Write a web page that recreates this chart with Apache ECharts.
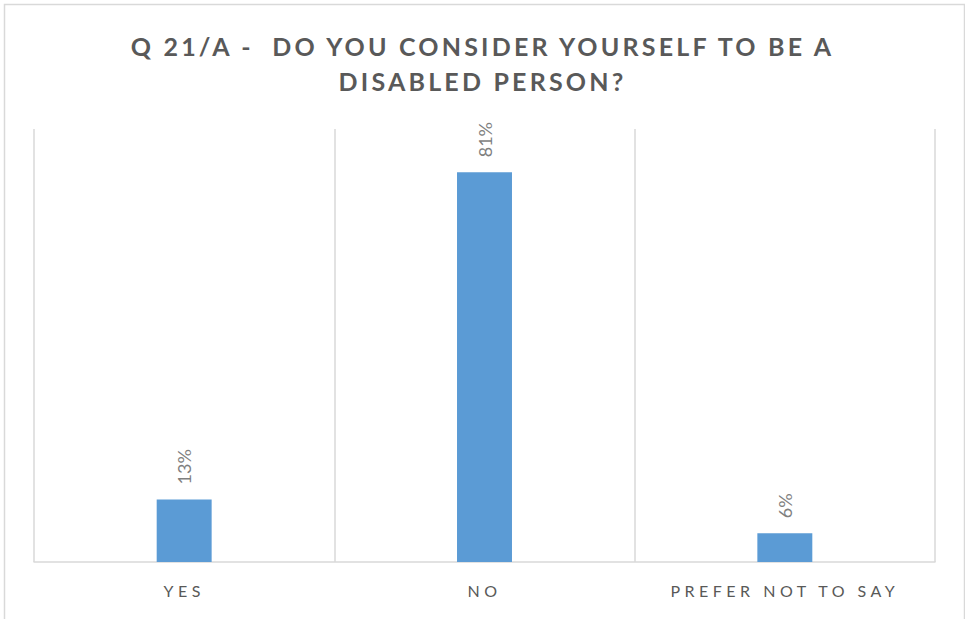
<!DOCTYPE html>
<html>
<head>
<meta charset="utf-8">
<script src="https://cdn.jsdelivr.net/npm/echarts@6/dist/echarts.min.js"></script>
<style>
html,body{margin:0;padding:0;background:#fff;}
#chart{width:965px;height:619px;}
#chart text[fill="#595959"]{letter-spacing:3.2px;}
#chart text[fill="#595958"]{letter-spacing:4.5px;}
</style>
</head>
<body>
<div id="chart"></div>
<script>
const titleLines = ['Q 21/A -  DO YOU CONSIDER YOURSELF TO BE A', 'DISABLED PERSON?'];
const categories = ['YES', 'NO', 'PREFER NOT TO SAY'];
const values = [0.13, 0.81, 0.06];
const valueLabels = ['13%', '81%', '6%'];

const chart = echarts.init(document.getElementById('chart'), null, {renderer: 'svg'});
chart.setOption({
  animation: false,
  backgroundColor: '#ffffff',
  graphic: [{
    type: 'rect',
    shape: {x: 4.5, y: 4.5, width: 960, height: 620},
    style: {fill: 'none', stroke: '#d9d9d9', lineWidth: 1.5},
    silent: true
  }],
  title: {
    text: titleLines.join('\n'),
    left: 'center',
    top: 23,
    textStyle: {
      fontFamily: 'Lato',
      fontWeight: 'bold',
      fontSize: 25,
      lineHeight: 35,
      color: '#595959'
    }
  },
  grid: {left: 34, right: 30, top: 129, bottom: 57, containLabel: false},
  xAxis: {
    type: 'category',
    data: categories,
    boundaryGap: true,
    axisLine: {show: true, lineStyle: {color: '#d9d9d9', width: 1.5}},
    axisTick: {show: false},
    splitLine: {show: true, lineStyle: {color: '#d9d9d9', width: 1.5}},
    axisLabel: {
      color: '#595958',
      fontFamily: 'Lato',
      fontSize: 16,
      margin: 20
    }
  },
  yAxis: {
    type: 'value',
    min: 0,
    max: 0.9,
    show: false,
    splitLine: {show: false}
  },
  series: [{
    type: 'bar',
    data: values,
    barWidth: '18.3%',
    itemStyle: {color: '#5b9bd5'},
    label: {
      show: true,
      position: 'top',
      rotate: 90,
      align: 'left',
      verticalAlign: 'middle',
      distance: 15,
      color: '#7f7f7f',
      fontFamily: 'Lato',
      fontSize: 18,
      formatter: p => valueLabels[p.dataIndex]
    }
  }]
});
</script>
</body>
</html>
